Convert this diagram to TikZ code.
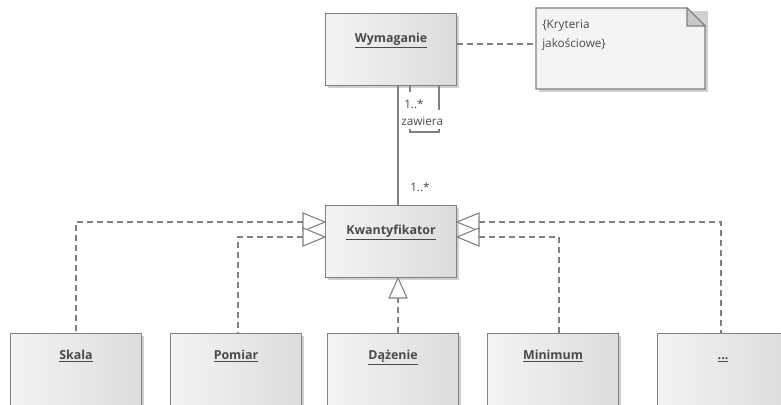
\documentclass[tikz,border=0pt]{standalone}
\usepackage{fontspec}
\setmainfont{Open Sans}
\usetikzlibrary{shapes.geometric,calc}
\definecolor{edge}{HTML}{808080}
\definecolor{txt}{HTML}{4A4A4A}
\definecolor{boxl}{HTML}{F4F4F4}
\definecolor{boxr}{HTML}{DCDCDC}
\definecolor{shad}{HTML}{D0D0D0}
\definecolor{fold}{HTML}{C8C8C8}
\tikzset{
  px/.style={x=0.75pt,y=-0.75pt},
  umlbox/.style={draw=edge, line width=0.8pt, left color=boxl, right color=boxr,
    minimum width=98.25pt, minimum height=54pt, anchor=north west, inner sep=0pt},
  classname/.style={font=\bfseries\fontsize{9.3}{11}\selectfont, text=txt, anchor=base},
  conn/.style={draw=edge, line width=0.8pt},
  dashconn/.style={conn, dash pattern=on 4.5pt off 3pt},
  gentri/.style={draw=edge, line width=0.8pt, fill=white},
  lbl/.style={font=\fontsize{8.8}{14.25}\selectfont, text=txt, inner sep=0pt},
}
\newcommand{\uline}[1]{\underline{#1}}
\begin{document}
\begin{tikzpicture}[px]
\useasboundingbox (0,0) rectangle (781,404);
\clip (0,0) rectangle (781,404);
% shadows
\foreach \x/\y in {325/13, 325/205, 10/333, 170/333, 327/333, 487/333, 657/333}
  \fill[shad] (\x+3,\y+3) rectangle (\x+134,\y+75);
\fill[shad] (539,11) rectangle (708,92);
% note
\path[draw=edge, line width=0.8pt, fill=boxl] (536,8) -- (687,8) -- (705,26) -- (705,89) -- (536,89) -- cycle;
\path[draw=edge, line width=0.8pt, fill=fold] (687,8) -- (687,26) -- (705,26) -- cycle;
\node[lbl, anchor=north west, align=left] (note) at (542,20) {\{Kryteria\\jakościowe\}};
\coordinate (noteL) at (536,44);
% boxes
\node[umlbox] (wym) at (325,13) {};
\node[umlbox] (kw) at (325,205) {};
\node[umlbox] (sk) at (10,333) {};
\node[umlbox] (po) at (170,333) {};
\node[umlbox] (da) at (327,333) {};
\node[umlbox] (mi) at (487,333) {};
\node[umlbox] (dots) at (657,333) {};
\node[classname] (wymt) at ($(wym.north)+(0,29)$) {\uline{Wymaganie}};
\node[classname] (kwt) at ($(kw.north)+(0,29)$) {\uline{Kwantyfikator}};
\node[classname] (skt) at ($(sk.north)+(0,26)$) {\uline{Skala}};
\node[classname] (pot) at ($(po.north)+(0,26)$) {\uline{Pomiar}};
\node[classname] (dat) at ($(da.north)+(0,26)$) {\uline{Dążenie}};
\node[classname] (mit) at ($(mi.north)+(0,26)$) {\uline{Minimum}};
\node[classname] (dott) at ($(dots.north)+(0,26)$) {\uline{...}};
% note link
\draw[dashconn] (wym.east |- noteL) -- (noteL);
% association
\coordinate (ax) at (398,0);
\draw[conn] (wym.south -| ax) -- (kw.north -| ax);
\draw[conn] (410,85) -- (410,92);
\draw[conn] (439,85) -- (439,110);
\draw[conn] (410,129) -- (410,132) -- (439,132) -- (439,129);
\node[lbl, anchor=base west] (m1) at (404,108) {1..*};
\node[lbl, anchor=base west] (zaw) at (401,125) {zawiera};
\node[lbl, anchor=base west] (m2) at (410,191) {1..*};
% generalizations
\coordinate (g1) at (325,222);
\coordinate (g2) at (325,237);
\coordinate (g3) at (457,222);
\coordinate (g4) at (457,237);
\draw[dashconn] (303,222) -| (sk.north -| 76,0);
\draw[dashconn] (303,237) -| (po.north -| 238,0);
\draw[dashconn] (479,222) -| (dots.north -| 721,0);
\draw[dashconn] (479,237) -| (mi.north -| 559,0);
\draw[dashconn] (da.north -| ax) -- (398,298);
\draw[gentri] (g1) -- (303,213) -- (303,231) -- cycle;
\draw[gentri] (g2) -- (303,228) -- (303,246) -- cycle;
\draw[gentri] (g3) -- (479,213) -- (479,231) -- cycle;
\draw[gentri] (g4) -- (479,228) -- (479,246) -- cycle;
\draw[gentri] (kw.south -| ax) -- (389,298) -- (407,298) -- cycle;
\end{tikzpicture}
\end{document}
